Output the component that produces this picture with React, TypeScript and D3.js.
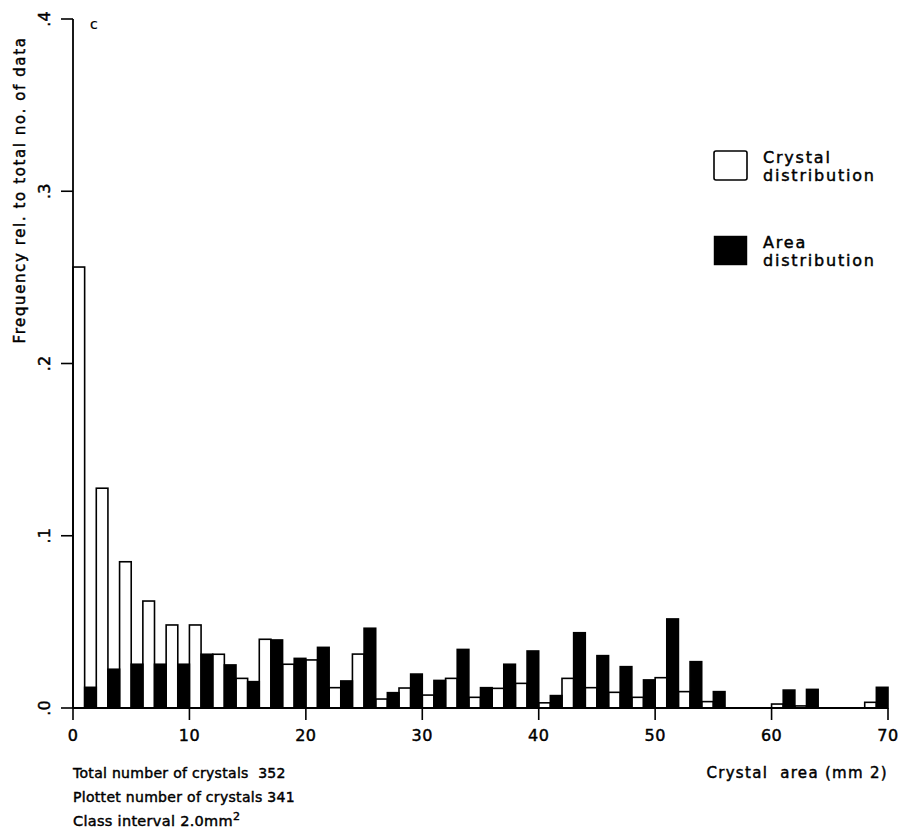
import React from "react";
import * as d3 from "d3";

// Relative frequency per 2.0 mm² class (classes 0-2, 2-4, ..., 68-70)
const crystalDist = [
  0.256, 0.1276, 0.0849, 0.0621, 0.0482, 0.0482, 0.0312, 0.0172, 0.0399, 0.0254,
  0.0279, 0.0118, 0.0313, 0.0052, 0.0116, 0.0075, 0.0172, 0.0062, 0.0114, 0.0143,
  0.003, 0.0172, 0.0118, 0.0091, 0.0062, 0.0176, 0.0095, 0.0037, 0.0, 0.0,
  0.0023, 0.0012, 0.0, 0.0, 0.0033,
];
const areaDist = [
  0.012, 0.0225, 0.0254, 0.0254, 0.0254, 0.0312, 0.025, 0.0153, 0.0395, 0.0288,
  0.0352, 0.0157, 0.0463, 0.0089, 0.0197, 0.016, 0.034, 0.0118, 0.0254, 0.0331,
  0.0072, 0.0437, 0.0304, 0.024, 0.0163, 0.0517, 0.0269, 0.0095, 0.0, 0.0,
  0.0104, 0.0108, 0.0, 0.0, 0.012,
];
const classWidth = 2;
const xTicks = [0, 10, 20, 30, 40, 50, 60, 70];
const yTicks = [0, 0.1, 0.2, 0.3, 0.4];
const yTickLabels = [".0", ".1", ".2", ".3", ".4"];
const infoLines = [
  "Total number of crystals\u00A0\u00A0352",
  "Plottet number of crystals 341",
];
const yTitle = "Frequency rel. to total no. of data";
const xTitle = "Crystal\u00A0\u00A0area (mm 2)";

const FONT = "'DejaVu Sans', sans-serif";

export default function App() {
  const x = d3.scaleLinear().domain([0, 70]).range([73, 888]);
  const y = d3.scaleLinear().domain([0, 0.4]).range([708, 19]);
  const half = classWidth / 2;

  return (
    <svg width={904} height={830} style={{ position: "absolute", left: 0, top: 0, background: "#fff" }}>
      <g fontFamily={FONT} fill="#000" stroke="#000" strokeWidth={0.45}>
        {/* bars: open = crystal count, filled = area */}
        {crystalDist.map((v, i) => {
          const x0 = x(i * classWidth);
          return (
            <rect
              key={"c" + i}
              x={x0}
              y={y(v)}
              width={x(i * classWidth + half) - x0}
              height={y(0) - y(v)}
              fill="#fff"
              stroke="#000"
              strokeWidth={1.6}
            />
          );
        })}
        {areaDist.map((v, i) => {
          const x0 = x(i * classWidth + half);
          return (
            <rect
              key={"a" + i}
              x={x0}
              y={y(v)}
              width={x((i + 1) * classWidth) - x0}
              height={y(0) - y(v)}
              fill="#000"
              stroke="#000"
              strokeWidth={1.6}
            />
          );
        })}

        {/* axes */}
        <line x1={x(0)} x2={x(70)} y1={y(0)} y2={y(0)} stroke="#000" strokeWidth={1.8} />
        <line x1={x(0)} x2={x(0)} y1={y(0)} y2={y(0.4)} stroke="#000" strokeWidth={1.8} />
        {xTicks.map((t) => (
          <g key={"xt" + t}>
            <line x1={x(t)} x2={x(t)} y1={y(0)} y2={y(0) + 12} stroke="#000" strokeWidth={1.6} />
            <text x={x(t)} y={y(0) + 33} textAnchor="middle" fontSize={16} letterSpacing={0.5}>
              {t}
            </text>
          </g>
        ))}
        {yTicks.map((t, i) => (
          <g key={"yt" + t}>
            <line x1={x(0) - 12} x2={x(0)} y1={y(t)} y2={y(t)} stroke="#000" strokeWidth={1.6} />
            <text
              transform={`translate(${x(0) - 23},${y(t)}) rotate(-90)`}
              textAnchor="middle"
              fontSize={16}
            >
              {yTickLabels[i]}
            </text>
          </g>
        ))}
        <text
          transform={`translate(25,190) rotate(-90)`}
          textAnchor="middle"
          fontSize={15}
          letterSpacing={1.6}
        >
          {yTitle}
        </text>
        <text x={90} y={29} fontSize={14} strokeWidth={0.2}>c</text>

        {/* legend */}
        <rect x={714} y={151} width={33} height={29} fill="#fff" stroke="#000" strokeWidth={1.6} rx={2} />
        <text x={763} y={163} fontSize={16} letterSpacing={1.8}>Crystal</text>
        <text x={763} y={181} fontSize={16} letterSpacing={1.8}>distribution</text>
        <rect x={714} y={236} width={33} height={29} fill="#000" />
        <text x={763} y={248} fontSize={16} letterSpacing={1.8}>Area</text>
        <text x={763} y={266} fontSize={16} letterSpacing={1.8}>distribution</text>

        {/* footnotes */}
        {infoLines.map((s, i) => (
          <text key={s} x={73} y={778 + i * 24} fontSize={14} letterSpacing={0.3}>
            {s}
          </text>
        ))}
        <text x={73} y={826} fontSize={14.5} letterSpacing={0.3}>
          Class interval 2.0mm
          <tspan dy={-6} fontSize={11}>2</tspan>
        </text>
        <text x={888} y={778} textAnchor="end" fontSize={15} letterSpacing={1.3}>
          {xTitle}
        </text>
      </g>
    </svg>
  );
}
